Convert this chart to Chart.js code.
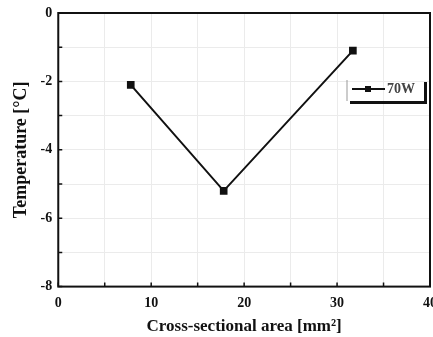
<!DOCTYPE html>
<html>
<head>
<meta charset="utf-8">
<script src="https://cdn.jsdelivr.net/npm/chart.js@4.4.0/dist/chart.umd.min.js"></script>
<style>
  body { margin: 0; background: #fff; }
  #wrap { width: 433px; height: 337px; }
</style>
</head>
<body>
<div id="wrap"><canvas id="chart" width="433" height="337"></canvas></div>
<script>
// data
const areas = [7.8, 17.8, 31.7];
const temps = [-2.1, -5.2, -1.1];
const seriesName = "70W";
const xTickLabels = [0, 10, 20, 30, 40];
const yTickLabels = [0, -2, -4, -6, -8];

const serif = "'Liberation Serif', 'Times New Roman', serif";

// frame, inward ticks and the boxed legend
const framePlugin = {
  id: "frame",
  afterDraw(chart) {
    const ctx = chart.ctx;
    const a = chart.chartArea;
    const xs = chart.scales.x, ys = chart.scales.y;
    ctx.save();
    ctx.strokeStyle = "#111";
    ctx.lineWidth = 2;
    ctx.strokeRect(a.left, a.top, a.right - a.left, a.bottom - a.top);

    ctx.lineWidth = 1.5;
    ctx.beginPath();
    xs.ticks.forEach(t => {
      const px = xs.getPixelForValue(t.value);
      ctx.moveTo(px, a.bottom);
      ctx.lineTo(px, a.bottom - 4);
    });
    ys.ticks.forEach(t => {
      const py = ys.getPixelForValue(t.value);
      ctx.moveTo(a.left, py);
      ctx.lineTo(a.left + 4, py);
    });
    ctx.stroke();

    // legend box
    const lx = 347, ly = 80, lw = 77, lh = 21;
    ctx.strokeStyle = "#999";
    ctx.lineWidth = 1;
    ctx.beginPath();
    ctx.moveTo(lx, ly);
    ctx.lineTo(lx, ly + lh);
    ctx.stroke();
    ctx.fillStyle = "#111";
    ctx.fillRect(lx + 3, ly + lh, lw, 3);
    ctx.fillRect(lx + lw, ly + 2, 3, lh + 1);

    ctx.strokeStyle = "#111";
    ctx.lineWidth = 2;
    ctx.beginPath();
    ctx.moveTo(352, 89);
    ctx.lineTo(385, 89);
    ctx.stroke();
    ctx.fillRect(365, 86, 6, 6);
    ctx.fillStyle = "#444";
    ctx.font = "bold 14px " + serif;
    ctx.textBaseline = "middle";
    ctx.fillText(seriesName, 387, 89);
    ctx.restore();
  }
};

new Chart(document.getElementById("chart"), {
  type: "scatter",
  data: {
    datasets: [
      {
        label: seriesName,
        data: areas.map((x, i) => ({ x: x, y: temps[i] })),
        showLine: true,
        borderColor: "#111",
        borderWidth: 2,
        backgroundColor: "#111",
        pointStyle: "rect",
        pointRadius: 4,
        pointHoverRadius: 4,
      },
    ],
  },
  options: {
    responsive: false,
    animation: false,
    layout: { autoPadding: false, padding: { top: 13, right: 3, left: 11, bottom: 0 } },
    plugins: {
      legend: { display: false },
      tooltip: { enabled: false },
    },
    scales: {
      x: {
        type: "linear",
        min: 0,
        max: 40,
        afterFit: (scale) => { scale.paddingRight = 0; scale.paddingLeft = 0; },
        ticks: {
          stepSize: 5,
          autoSkip: false,
          maxRotation: 0,
          color: "#111",
          padding: 10,
          font: { family: serif, size: 14, weight: "bold", lineHeight: 1 },
          callback: (v) => (xTickLabels.includes(v) ? String(v) : ""),
        },
        grid: { color: "#ebebeb", drawTicks: false },
        border: { display: false },
        title: {
          display: true,
          text: "Cross-sectional area [mm\u00B2]",
          color: "#111",
          font: { family: serif, size: 17, weight: "bold" },
          padding: { top: -4, bottom: 0 },
        },
      },
      y: {
        type: "linear",
        min: -8,
        max: 0,
        afterFit: (scale) => { scale.paddingTop = 0; scale.paddingBottom = 0; },
        ticks: {
          stepSize: 1,
          autoSkip: false,
          color: "#111",
          padding: 6,
          font: { family: serif, size: 14, weight: "bold" },
          callback: (v) => (yTickLabels.includes(v) ? String(v) : ""),
        },
        grid: { color: "#ebebeb", drawTicks: false },
        border: { display: false },
        title: {
          display: true,
          text: "Temperature [\u00B0C]",
          color: "#111",
          font: { family: serif, size: 18, weight: "bold" },
          padding: { top: 0, bottom: 2 },
        },
      },
    },
  },
  plugins: [framePlugin],
});
</script>
</body>
</html>
